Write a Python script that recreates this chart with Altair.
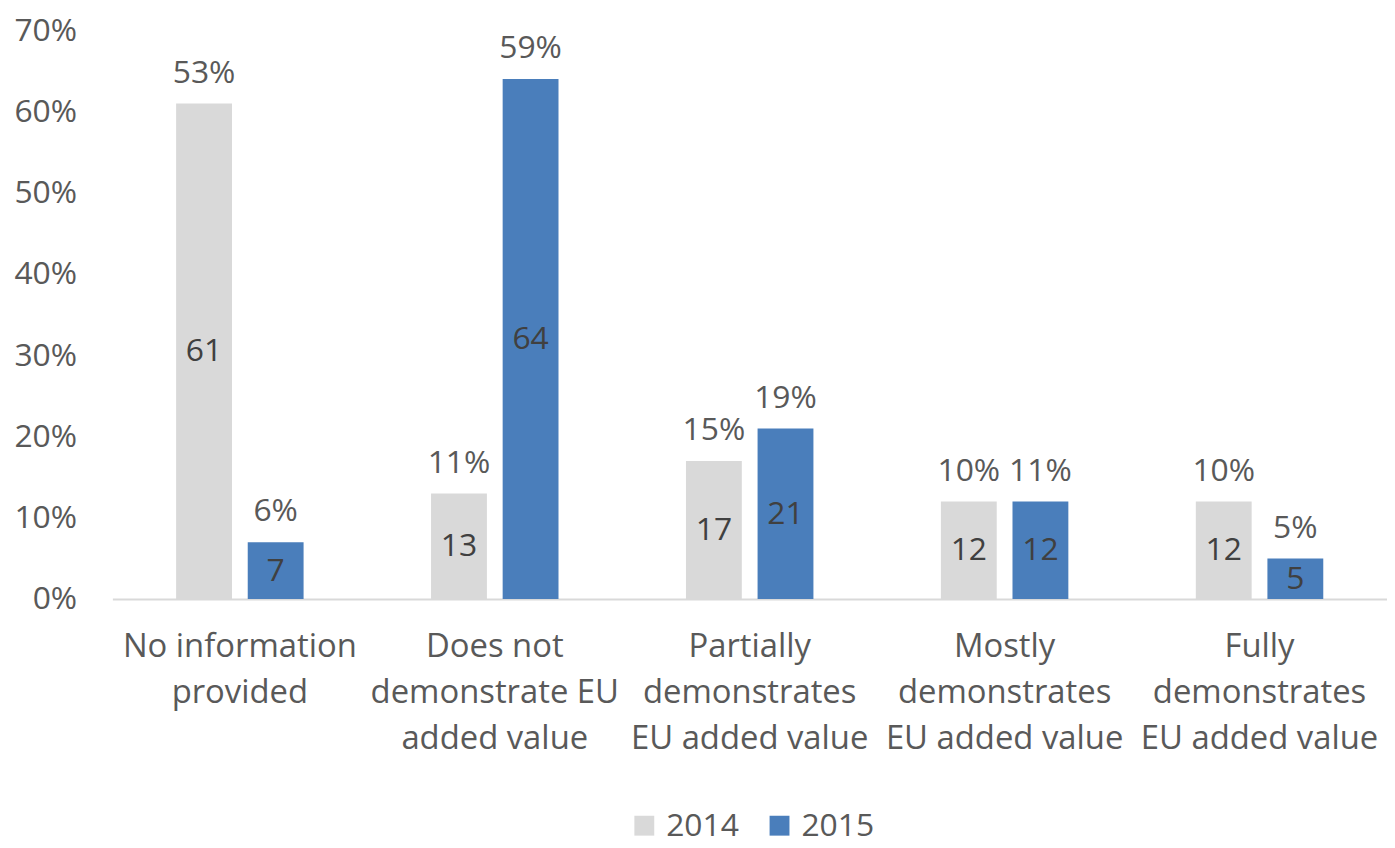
import altair as alt
import pandas as pd

categories = [
    "No information provided",
    "Does not demonstrate EU added value",
    "Partially demonstrates EU added value",
    "Mostly demonstrates EU added value",
    "Fully demonstrates EU added value",
]
category_lines = [
    "No information|provided",
    "Does not|demonstrate EU|added value",
    "Partially|demonstrates|EU added value",
    "Mostly|demonstrates|EU added value",
    "Fully|demonstrates|EU added value",
]
years = ["2014", "2015"]
counts_2014 = [61, 13, 17, 12, 12]
counts_2015 = [7, 64, 21, 12, 5]
pct_2014 = [53, 11, 15, 10, 10]
pct_2015 = [6, 59, 19, 11, 5]

rows = []
for i, c in enumerate(categories):
    rows.append({"cat": c, "year": "2014", "count": counts_2014[i], "pct": pct_2014[i]})
    rows.append({"cat": c, "year": "2015", "count": counts_2015[i], "pct": pct_2015[i]})
df = pd.DataFrame(rows)
df["val"] = df["count"] / 100.0
df["mid"] = df["val"] / 2.0
df["pct_label"] = df["pct"].astype(str) + "%"
df["count_label"] = df["count"].astype(str)

label_map = "{" + ",".join(f"'{c}': '{l}'" for c, l in zip(categories, category_lines)) + "}"

FONT = "Open Sans"

x_enc = alt.X(
    "cat:N",
    sort=categories,
    scale=alt.Scale(paddingInner=0.5, paddingOuter=0.25),
    axis=alt.Axis(
        title=None,
        labelAngle=0,
        ticks=False,
        domainColor="#D9D9D9",
        domainWidth=2,
        labelFont=FONT,
        labelFontSize=33,
        labelColor="#595959",
        labelPadding=32,
        labelLineHeight=46,
        labelBaseline="top",
        labelLimit=0,
        labelExpr=f"split({label_map}[datum.label], '|')",
    ),
)
xoff = alt.XOffset("year:N", sort=years, scale=alt.Scale(paddingInner=0.22, paddingOuter=0))

color = alt.Color(
    "year:N",
    sort=years,
    scale=alt.Scale(domain=years, range=["#D9D9D9", "#4A7EBB"]),
    legend=alt.Legend(
        title=None,
        orient="none",
        direction="horizontal",
        legendX=519,
        legendY=784,
        symbolType="square",
        symbolSize=400,
        symbolStrokeWidth=0,
        labelFont=FONT,
        labelFontSize=32,
        labelColor="#595959",
        labelOffset=6,
        columnPadding=24,
    ),
)

base = alt.Chart(df)

bars = base.mark_bar().encode(
    x=x_enc,
    xOffset=xoff,
    y=alt.Y(
        "val:Q",
        scale=alt.Scale(domain=[0, 0.7], nice=False),
        axis=alt.Axis(
            title=None,
            format=".0%",
            values=[0, 0.1, 0.2, 0.3, 0.4, 0.5, 0.6, 0.7],
            grid=False,
            domain=False,
            ticks=False,
            labelFont=FONT,
            labelFontSize=32,
            labelColor="#595959",
            labelPadding=36,
        ),
    ),
    color=color,
)

pct_text = base.mark_text(
    font=FONT, fontSize=32, color="#595959", baseline="alphabetic", dy=-21
).encode(x=x_enc, xOffset=xoff, y="val:Q", text="pct_label:N")

count_text = base.mark_text(
    font=FONT, fontSize=32, color="#404040", baseline="middle"
).encode(x=x_enc, xOffset=xoff, y="mid:Q", text="count_label:N")

chart = (
    alt.layer(bars, pct_text, count_text)
    .properties(
        width=1282,
        height=572,
        padding={"left": 105, "top": 20, "right": 0, "bottom": 248},
        autosize=alt.AutoSizeParams(type="none"),
    )
    .configure_view(stroke=None)
)

chart.save("out.html", embed_options={"renderer": "svg", "actions": False})
